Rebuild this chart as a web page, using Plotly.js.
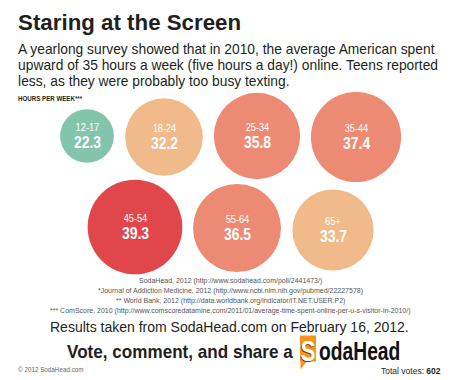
<!DOCTYPE html>
<html>
<head>
<meta charset="utf-8">
<script src="https://cdn.plot.ly/plotly-3.0.1.min.js"></script>
<style>html,body{margin:0;padding:0;background:#fff;}#chart{width:460px;height:380px;}</style>
</head>
<body>
<div id="chart"></div>
<script>
// ---- data ----
var ageGroups = ["12-17", "18-24", "25-34", "35-44", "45-54", "55-64", "65+"];
var hours = [22.3, 32.2, 35.8, 37.4, 39.3, 36.5, 33.7];
var colorGroup = ["teal", "peach", "salmon", "salmon", "red", "salmon", "peach"];

// ---- layout positions (packed bubble layout, pixel space) ----
var cx = [87, 164, 257, 356, 135, 237, 333];
var cy = [136, 137, 136, 137, 227, 228, 230];

var palette = {teal: "#83C4AD", peach: "#F0BA8A", salmon: "#EC8A74", red: "#E0464A"};
var SANS = "Liberation Sans, Arial, sans-serif";

var trace = {
  type: "scatter",
  mode: "markers",
  x: cx,
  y: cy,
  text: ageGroups,
  hoverinfo: "text",
  marker: {
    size: hours,
    sizemode: "diameter",
    sizeref: 1 / 2.41,
    color: colorGroup.map(function (g) { return palette[g]; }),
    opacity: 1,
    line: {width: 0}
  }
};

var ann = [];
var squeeze = []; // horizontal condensing factor per annotation
function txt(x, y, s, size, color, anchor, sx, extra) {
  var a = {x: x, y: y, xref: "x", yref: "y", text: s, showarrow: false,
    font: {family: SANS, size: size, color: color}, xanchor: anchor || "left", yanchor: "middle"};
  if (extra) for (var k in extra) a[k] = extra[k];
  ann.push(a);
  squeeze.push(sx || 1);
}
ageGroups.forEach(function (g, i) {
  txt(cx[i], cy[i], g, 10.5, "#fff", "center", 0.88, {yshift: 9});
  txt(cx[i], cy[i], "<b>" + hours[i].toFixed(1) + "</b>", 16, "#fff", "center", 0.87, {yshift: -6});
});

txt(16, 21.5, "<b>Staring at the Screen</b>", 23, "#231F20", "left", 0.97);
txt(16, 48, "A yearlong survey showed that in 2010, the average American spent", 15, "#231F20", "left", 0.92);
txt(16, 64.5, "upward of 35 hours a week (five hours a day!) online. Teens reported", 15, "#231F20", "left", 0.92);
txt(16, 80.5, "less, as they were probably too busy texting.", 15, "#231F20", "left", 0.92);
txt(16, 98.5, "<b>HOURS PER WEEK***</b>", 6.5, "#231F20", "left", 0.95);

var src = [
  "SodaHead, 2012 (http://www.sodahead.com/poll/2441473/)",
  "*Journal of Addiction Medicine, 2012 (http://www.ncbi.nlm.nih.gov/pubmed/22227578)",
  "** World Bank, 2012 (http://data.worldbank.org/indicator/IT.NET.USER.P2)",
  "*** ComScore, 2010 (http://www.comscoredatamine.com/2011/01/average-time-spent-online-per-u-s-visitor-in-2010/)"
];
var srcY = [280.5, 291, 301, 311];
src.forEach(function (s, i) { txt(230, srcY[i], s, 7, "#555", "center", 1); });

txt(229, 327, "Results taken from SodaHead.com on February 16, 2012.", 14, "#231F20", "center", 1);
txt(65, 351.5, "<b>Vote, comment, and share a</b>", 18, "#231F20", "left", 0.95);
txt(308, 350, "<b>S</b>", 30, "#fff", "center", 0.75, {font: {family: SANS, size: 30, color: "#fff", shadow: "-1px 1px 0px #7a3b00"}});
txt(316.5, 350.5, "<b>odaHead</b>", 25, "#111", "left", 0.77);
txt(16, 369.5, "© 2012 SodaHead.com", 6.3, "#666", "left", 1);
txt(443, 371, "Total votes: <b>602</b>", 8.5, "#231F20", "right", 1);

var shapes = [
  {type: "rect", xref: "x", yref: "y", x0: 300, x1: 316, y0: 335.5, y1: 361.5, fillcolor: "#F7941D", line: {width: 0}, layer: "below"},
  {type: "path", xref: "x", yref: "y", path: "M 300.5 361 L 300.5 369.5 L 307 361 Z", fillcolor: "#F7941D", line: {width: 0}, layer: "below"}
];

var layout = {
  width: 460, height: 380,
  margin: {l: 0, r: 0, t: 0, b: 0},
  paper_bgcolor: "#fff", plot_bgcolor: "#fff",
  showlegend: false,
  xaxis: {range: [0, 460], visible: false, fixedrange: true},
  yaxis: {range: [380, 0], visible: false, fixedrange: true},
  annotations: ann,
  shapes: shapes
};

Plotly.newPlot("chart", [trace], layout, {displayModeBar: false, staticPlot: true}).then(function (gd) {
  var groups = gd.querySelectorAll("g.annotation");
  groups.forEach(function (g) {
    var i = +g.getAttribute("data-index");
    var s = squeeze[i];
    if (s === 1) return;
    var t = g.querySelector("text.annotation-text");
    if (!t) return;
    var anc = ann[i].xanchor;
    t.style.transformBox = "fill-box";
    t.style.transformOrigin = (anc === "left" ? "left" : anc === "right" ? "right" : "center") + " center";
    t.style.transform = "scaleX(" + s + ")";
  });
});
</script>
</body>
</html>
